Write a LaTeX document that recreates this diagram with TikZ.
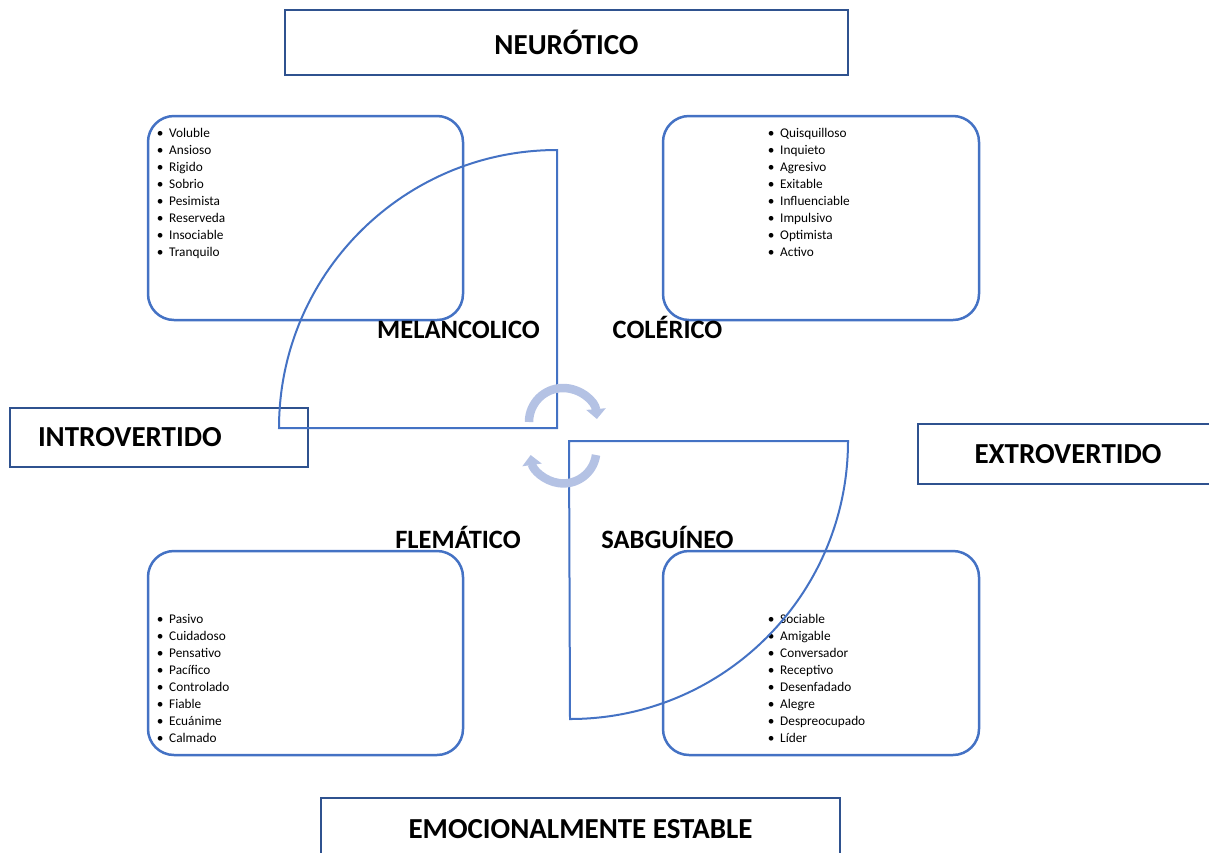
\documentclass[tikz,border=0pt]{standalone}
\usepackage{fontspec}
\setmainfont{Carlito}
\usetikzlibrary{arrows.meta}
\definecolor{azul}{HTML}{4472C4}
\definecolor{azuloscuro}{HTML}{2F528F}
\definecolor{azulclaro}{HTML}{B4C2E4}
\newcommand\vineta{\makebox[0pt][c]{\textbullet}\hspace{9pt}}
\tikzset{
  titulo/.style={draw=azuloscuro, line width=2pt, inner sep=0pt,
    font=\fontsize{29}{34}\selectfont\bfseries},
  caja/.style={draw=azul, line width=2.5pt, rounded corners=26pt},
  sector/.style={draw=azul, line width=2pt},
  etiqueta/.style={anchor=base, inner sep=0pt,
    font=\fontsize{26.5}{31}\selectfont\bfseries},
  rasgo/.style={anchor=base west, inner sep=0pt,
    font=\fontsize{13.3}{17}\selectfont},
  giro/.style={draw=azulclaro, line width=8.5pt,
    -{Triangle[length=10pt, width=19pt]}}
}

\begin{document}
\begin{tikzpicture}[x=1pt, y=-1pt]
    \useasboundingbox (0,0) rectangle (1209,852);
    % ejes
    \node[titulo, minimum width=563pt, minimum height=65pt] (neurotico) at (566.5,42.5) {NEURÓTICO};
    \node[titulo, minimum width=298pt, minimum height=59pt, text width=242pt, align=left] (introvertido) at (159,437.5) {INTROVERTIDO};
    \node[titulo, minimum width=300pt, minimum height=60pt] (extrovertido) at (1068,454) {EXTROVERTIDO};
    \node[titulo, minimum width=519pt, minimum height=62pt] (estable) at (580.5,829) {EMOCIONALMENTE ESTABLE};

    % cajas
    \draw[caja] (148,116) rectangle (463,320);
    \draw[caja] (663,116) rectangle (979,320);
    \draw[caja] (148,551) rectangle (463,755);
    \draw[caja] (663,551) rectangle (979,755);

    \foreach \w [count=\i from 0] in {Voluble,Ansioso,Rigido,Sobrio,Pesimista,Reserveda,Insociable,Tranquilo}
      \node[rasgo] (mel\i) at (160,137+17*\i) {\vineta\w};
    \foreach \w [count=\i from 0] in {Quisquilloso,Inquieto,Agresivo,Exitable,Influenciable,Impulsivo,Optimista,Activo}
      \node[rasgo] (col\i) at (771,137+17*\i) {\vineta\w};
    \foreach \w [count=\i from 0] in {Pasivo,Cuidadoso,Pensativo,Pacífico,Controlado,Fiable,Ecuánime,Calmado}
      \node[rasgo] (fle\i) at (160,623+17*\i) {\vineta\w};
    \foreach \w [count=\i from 0] in {Sociable,Amigable,Conversador,Receptivo,Desenfadado,Alegre,Despreocupado,Líder}
      \node[rasgo] (san\i) at (771,623+17*\i) {\vineta\w};

    % cuadrantes
    \draw[sector] (557,428) -- (279,428) arc[start angle=180, end angle=270, radius=278] -- cycle;
    \draw[sector] (569,441) -- (848,441) arc[start angle=0, end angle=90, radius=278] -- cycle;

    \node[etiqueta] (melancolico) at (458.5,338) {MELANCOLICO};
    \node[etiqueta] (colerico) at (667.5,338) {COLÉRICO};
    \node[etiqueta] (flematico) at (458,548) {FLEMÁTICO};
    \node[etiqueta] (sanguineo) at (667.5,548) {SABGUÍNEO};

    % flechas circulares
    \draw[giro] (529,422) arc[start angle=180, end angle=355, radius=34];
    \draw[giro] (596,455) arc[start angle=8, end angle=172, radius=33];
\end{tikzpicture}
\end{document}
